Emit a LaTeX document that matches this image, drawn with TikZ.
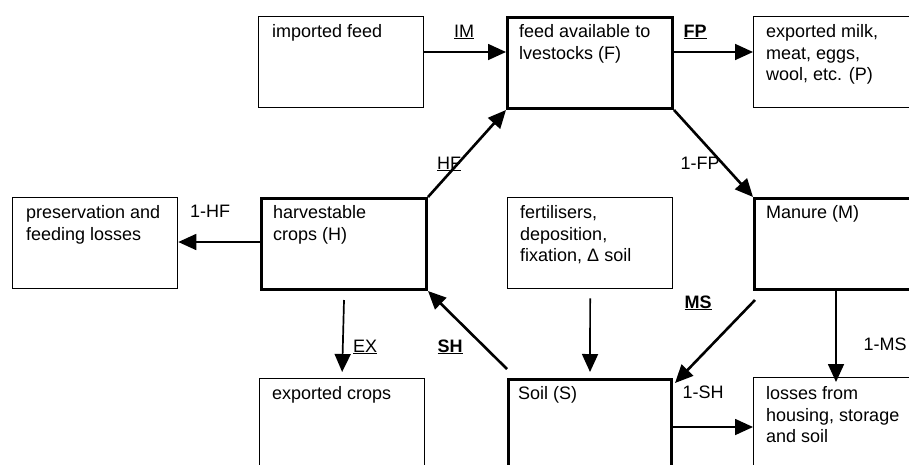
\documentclass[tikz,border=0pt]{standalone}
\usepackage{fontspec}
\setmainfont{Liberation Sans}
\usetikzlibrary{arrows.meta}
\begin{document}
\begin{tikzpicture}[x=1pt,y=-1pt,
  box/.style={draw, rectangle, line width=1.3pt, inner sep=0pt, anchor=north west},
  mainbox/.style={box, line width=3pt},
  boxtext/.style={anchor=north west, inner sep=0pt, align=left,
    font=\fontsize{18}{21.7}\selectfont},
  flow/.style={-{Triangle[length=18pt,width=16pt]}, line width=1.7pt},
  bigflow/.style={flow, line width=2.6pt},
  rate/.style={anchor=base, inner sep=0pt, font=\fontsize{18}{21.7}\selectfont}]
\useasboundingbox (0,0) rectangle (909,464);
\clip (0,0) rectangle (909,464);

% ---- boxes (pools and external flows) ----
\node[box,     minimum width=165pt, minimum height=91pt] (IMb) at (258,16) {};
\node[mainbox, minimum width=165pt, minimum height=91pt] (F)   at (506,16) {};
\node[box,     minimum width=165pt, minimum height=91pt] (P)   at (753,16) {};
\node[box,     minimum width=165pt, minimum height=91pt] (L1)  at (12,197) {};
\node[mainbox, minimum width=165pt, minimum height=91pt] (H)   at (260,197) {};
\node[box,     minimum width=165pt, minimum height=91pt] (Fe)  at (507,197) {};
\node[mainbox, minimum width=165pt, minimum height=91pt] (M)   at (753,197) {};
\node[box,     minimum width=165pt, minimum height=110pt] (EXc) at (259,378) {};
\node[mainbox, minimum width=163pt, minimum height=110pt] (S)   at (507,378) {};
\node[box,     minimum width=165pt, minimum height=110pt] (L2)  at (753,377) {};

% ---- box texts ----
\node[boxtext] (IMt) at ([shift={(14,6)}]IMb.north west) {\strut imported feed};
\node[boxtext] (Ft)  at ([shift={(13,6)}]F.north west) {\strut feed available to\\lvestocks (F)};
\node[boxtext] (Pt)  at ([shift={(13,6)}]P.north west) {\strut exported milk,\\meat, eggs,\\wool, etc. (P)};
\node[boxtext] (L1t) at ([shift={(14,6)}]L1.north west) {\strut preservation and\\feeding losses};
\node[boxtext] (Ht)  at ([shift={(13,6)}]H.north west) {\strut harvestable\\crops (H)};
\node[boxtext] (Fet) at ([shift={(13,6)}]Fe.north west) {\strut fertilisers,\\deposition,\\fixation, Δ soil};
\node[boxtext] (Mt)  at ([shift={(13,6)}]M.north west) {\strut Manure (M)};
\node[boxtext] (EXt) at ([shift={(13,6)}]EXc.north west) {\strut exported crops};
\node[boxtext] (St)  at ([shift={(11,6)}]S.north west) {\strut Soil (S)};
\node[boxtext] (L2t) at ([shift={(13,7)}]L2.north west) {\strut losses from\\housing, storage\\and soil};

% ---- flows ----
\draw[flow]    ([yshift=-36pt]IMb.north east) -- ([yshift=-36pt]F.north west);
\draw[flow]    ([yshift=-36pt]F.north east) -- ([yshift=-36pt]P.north west);
\draw[bigflow] (H.north east) -- (F.south west);
\draw[bigflow] (F.south east) -- (M.north west);
\draw[flow]    ([yshift=-45pt]H.north west) -- ([yshift=-45pt]L1.north east);
\draw[flow]    ([yshift=-9pt]H.south) -- ([yshift=6pt]EXc.north);
\draw[bigflow] ([yshift=9pt]S.north west) -- (H.south east);
\draw[flow]    ([yshift=-9pt]Fe.south) -- ([yshift=6pt]S.north);
\draw[bigflow] ([shift={(2,9)}]M.south west) -- ([shift={(2,5)}]S.north east);
\draw[flow]    ([xshift=83pt]M.south west) -- ([shift={(83,5)}]L2.north west);
\draw[flow]    ([yshift=-49pt]S.north east) -- ([yshift=-50pt]L2.north west);

% ---- flow labels ----
\node[rate] (rIM)  at (464,37)  {\underline{IM}};
\node[rate] (rFP)  at (695,37)  {\underline{\textbf{FP}}};
\node[rate] (rHF)  at (449,169) {\underline{HF}};
\node[rate] (rFM)  at (700,169) {1-FP};
\node[rate] (rHL)  at (210,217) {1-HF};
\node[rate] (rEX)  at (365,352) {\underline{EX}};
\node[rate] (rSH)  at (450,352) {\underline{\textbf{SH}}};
\node[rate] (rMS)  at (698,308) {\underline{\textbf{MS}}};
\node[rate] (rML)  at (885,350) {1-MS};
\node[rate] (rSL)  at (703,398) {1-SH};
\end{tikzpicture}
\end{document}
